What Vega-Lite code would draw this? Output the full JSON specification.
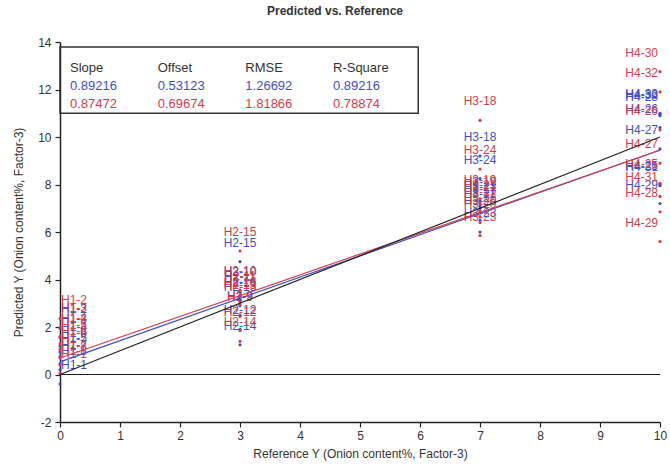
{
  "$schema": "https://vega.github.io/schema/vega-lite/v6.json",
  "width": 600,
  "height": 380,
  "autosize": {"type": "none"},
  "padding": {"left": 60, "top": 42, "right": 10, "bottom": 46},
  "background": "white",
  "config": {"view": {"stroke": null}, "font": "Liberation Sans"},
  "title": {"text": "Predicted vs. Reference", "fontSize": 12, "fontWeight": "bold", "color": "#333333", "offset": 18, "frame": "group", "dx": -25},
  "datasets": {
    "pred": [
      {"sample": "H1-1", "ref": 0, "pred": -0.4, "series": "Calibration"},
      {"sample": "H1-2", "ref": 0, "pred": 1.95, "series": "Calibration"},
      {"sample": "H1-3", "ref": 0, "pred": 1.55, "series": "Calibration"},
      {"sample": "H1-4", "ref": 0, "pred": 1.2, "series": "Calibration"},
      {"sample": "H1-5", "ref": 0, "pred": 0.75, "series": "Calibration"},
      {"sample": "H1-6", "ref": 0, "pred": 0.95, "series": "Calibration"},
      {"sample": "H1-7", "ref": 0, "pred": 0.45, "series": "Calibration"},
      {"sample": "H1-8", "ref": 0, "pred": 0.2, "series": "Calibration"},
      {"sample": "H2-9", "ref": 3, "pred": 2.5, "series": "Calibration"},
      {"sample": "H2-10", "ref": 3, "pred": 3.5, "series": "Calibration"},
      {"sample": "H2-11", "ref": 3, "pred": 3.3, "series": "Calibration"},
      {"sample": "H2-12", "ref": 3, "pred": 1.9, "series": "Calibration"},
      {"sample": "H2-13", "ref": 3, "pred": 2.9, "series": "Calibration"},
      {"sample": "H2-14", "ref": 3, "pred": 1.25, "series": "Calibration"},
      {"sample": "H2-15", "ref": 3, "pred": 4.75, "series": "Calibration"},
      {"sample": "H2-16", "ref": 3, "pred": 3.1, "series": "Calibration"},
      {"sample": "H3-17", "ref": 7, "pred": 7.0, "series": "Calibration"},
      {"sample": "H3-18", "ref": 7, "pred": 9.2, "series": "Calibration"},
      {"sample": "H3-19", "ref": 7, "pred": 7.3, "series": "Calibration"},
      {"sample": "H3-20", "ref": 7, "pred": 6.5, "series": "Calibration"},
      {"sample": "H3-21", "ref": 7, "pred": 7.1, "series": "Calibration"},
      {"sample": "H3-22", "ref": 7, "pred": 6.8, "series": "Calibration"},
      {"sample": "H3-23", "ref": 7, "pred": 6.0, "series": "Calibration"},
      {"sample": "H3-24", "ref": 7, "pred": 8.25, "series": "Calibration"},
      {"sample": "H4-25", "ref": 10, "pred": 8.0, "series": "Calibration"},
      {"sample": "H4-26", "ref": 10, "pred": 10.4, "series": "Calibration"},
      {"sample": "H4-27", "ref": 10, "pred": 9.5, "series": "Calibration"},
      {"sample": "H4-28", "ref": 10, "pred": 10.9, "series": "Calibration"},
      {"sample": "H4-29", "ref": 10, "pred": 7.2, "series": "Calibration"},
      {"sample": "H4-30", "ref": 10, "pred": 10.95, "series": "Calibration"},
      {"sample": "H4-31", "ref": 10, "pred": 7.95, "series": "Calibration"},
      {"sample": "H4-32", "ref": 10, "pred": 11.0, "series": "Calibration"},
      {"sample": "H1-1", "ref": 0, "pred": 0.05, "series": "Validation"},
      {"sample": "H1-2", "ref": 0, "pred": 2.35, "series": "Validation"},
      {"sample": "H1-3", "ref": 0, "pred": 2.0, "series": "Validation"},
      {"sample": "H1-4", "ref": 0, "pred": 1.6, "series": "Validation"},
      {"sample": "H1-5", "ref": 0, "pred": 1.3, "series": "Validation"},
      {"sample": "H1-6", "ref": 0, "pred": 1.05, "series": "Validation"},
      {"sample": "H1-7", "ref": 0, "pred": 0.7, "series": "Validation"},
      {"sample": "H1-8", "ref": 0, "pred": 0.4, "series": "Validation"},
      {"sample": "H2-9", "ref": 3, "pred": 2.45, "series": "Validation"},
      {"sample": "H2-10", "ref": 3, "pred": 3.55, "series": "Validation"},
      {"sample": "H2-11", "ref": 3, "pred": 3.35, "series": "Validation"},
      {"sample": "H2-12", "ref": 3, "pred": 1.85, "series": "Validation"},
      {"sample": "H2-13", "ref": 3, "pred": 2.95, "series": "Validation"},
      {"sample": "H2-14", "ref": 3, "pred": 1.4, "series": "Validation"},
      {"sample": "H2-15", "ref": 3, "pred": 5.2, "series": "Validation"},
      {"sample": "H2-16", "ref": 3, "pred": 3.05, "series": "Validation"},
      {"sample": "H3-17", "ref": 7, "pred": 6.9, "series": "Validation"},
      {"sample": "H3-18", "ref": 7, "pred": 10.7, "series": "Validation"},
      {"sample": "H3-19", "ref": 7, "pred": 7.4, "series": "Validation"},
      {"sample": "H3-20", "ref": 7, "pred": 6.4, "series": "Validation"},
      {"sample": "H3-21", "ref": 7, "pred": 7.2, "series": "Validation"},
      {"sample": "H3-22", "ref": 7, "pred": 6.65, "series": "Validation"},
      {"sample": "H3-23", "ref": 7, "pred": 5.85, "series": "Validation"},
      {"sample": "H3-24", "ref": 7, "pred": 8.65, "series": "Validation"},
      {"sample": "H4-25", "ref": 10, "pred": 8.05, "series": "Validation"},
      {"sample": "H4-26", "ref": 10, "pred": 10.3, "series": "Validation"},
      {"sample": "H4-27", "ref": 10, "pred": 8.9, "series": "Validation"},
      {"sample": "H4-28", "ref": 10, "pred": 6.85, "series": "Validation"},
      {"sample": "H4-29", "ref": 10, "pred": 5.6, "series": "Validation"},
      {"sample": "H4-30", "ref": 10, "pred": 12.75, "series": "Validation"},
      {"sample": "H4-31", "ref": 10, "pred": 7.5, "series": "Validation"},
      {"sample": "H4-32", "ref": 10, "pred": 11.9, "series": "Validation"}
    ],
    "stats": [
      {"row": "header", "column": "Slope", "text": "Slope"},
      {"row": "header", "column": "Offset", "text": "Offset"},
      {"row": "header", "column": "RMSE", "text": "RMSE"},
      {"row": "header", "column": "R-Square", "text": "R-Square"},
      {"row": "Calibration", "column": "Slope", "text": "0.89216"},
      {"row": "Calibration", "column": "Offset", "text": "0.53123"},
      {"row": "Calibration", "column": "RMSE", "text": "1.26692"},
      {"row": "Calibration", "column": "R-Square", "text": "0.89216"},
      {"row": "Validation", "column": "Slope", "text": "0.87472"},
      {"row": "Validation", "column": "Offset", "text": "0.69674"},
      {"row": "Validation", "column": "RMSE", "text": "1.81866"},
      {"row": "Validation", "column": "R-Square", "text": "0.78874"}
    ]
  },
  "layer": [
    {
      "data": {"name": "pred"},
      "mark": {"type": "point", "opacity": 0},
      "encoding": {
        "x": {"field": "ref", "type": "quantitative", "scale": {"domain": [0, 10], "nice": false, "zero": false},
          "axis": {"title": "Reference Y (Onion content%, Factor-3)", "values": [0,0.5,1,1.5,2,2.5,3,3.5,4,4.5,5,5.5,6,6.5,7,7.5,8,8.5,9,9.5,10],
            "labelExpr": "datum.value % 1 === 0 ? '' + datum.value : ''", "grid": false,
            "domainColor": "#222222", "domainWidth": 1.5, "tickColor": "#222222", "tickWidth": 1.2,
            "tickSize": {"condition": {"test": "datum.value % 1 === 0", "value": 5}, "value": 4},
            "labelFontSize": 12, "labelColor": "#333333", "labelPadding": 3, "labelFlush": false,
            "titleFontSize": 12, "titleFontWeight": "normal", "titleColor": "#333333", "titlePadding": 7}},
        "y": {"field": "pred", "type": "quantitative", "scale": {"domain": [-2, 14], "nice": false, "zero": false},
          "axis": {"title": "Predicted Y (Onion content%, Factor-3)", "values": [-2,-1,0,1,2,3,4,5,6,7,8,9,10,11,12,13,14],
            "labelExpr": "datum.value % 2 === 0 ? '' + datum.value : ''", "grid": false,
            "domainColor": "#222222", "domainWidth": 1.5, "tickColor": "#222222", "tickWidth": 1.2, "tickSize": 5,
            "labelFontSize": 12, "labelColor": "#333333", "labelPadding": 4, "labelFlush": false,
            "titleFontSize": 12, "titleFontWeight": "normal", "titleColor": "#333333", "titlePadding": 12}},
        "color": {"field": "series", "type": "nominal", "scale": {"domain": ["Calibration", "Validation", "header"], "range": ["#3f4fc6", "#d83c4a", "#333333"]}, "legend": null}
      }
    },
    {
      "data": {"values": [{}]},
      "mark": {"type": "rule", "color": "#222222", "strokeWidth": 1.2},
      "encoding": {"x": {"datum": 0, "type": "quantitative"}, "x2": {"datum": 10}, "y": {"datum": 0, "type": "quantitative"}}
    },
    {
      "data": {"name": "pred"},
      "transform": [{"filter": "datum.ref === 0"}],
      "mark": {"type": "text", "align": "left", "baseline": "middle", "dx": 1, "dy": -19, "fontSize": 12},
      "encoding": {
        "x": {"field": "ref", "type": "quantitative"},
        "y": {"field": "pred", "type": "quantitative"},
        "text": {"field": "sample"},
        "color": {"field": "series", "type": "nominal", "legend": null}
      }
    },
    {
      "data": {"name": "pred"},
      "transform": [{"filter": "datum.ref === 10"}],
      "mark": {"type": "text", "align": "right", "baseline": "middle", "dx": -2, "dy": -19, "fontSize": 12},
      "encoding": {
        "x": {"field": "ref", "type": "quantitative"},
        "y": {"field": "pred", "type": "quantitative"},
        "text": {"field": "sample"},
        "color": {"field": "series", "type": "nominal", "legend": null}
      }
    },
    {
      "data": {"name": "pred"},
      "transform": [{"filter": "datum.ref > 0 && datum.ref < 10"}],
      "mark": {"type": "text", "align": "center", "baseline": "middle", "dy": -19, "fontSize": 12},
      "encoding": {
        "x": {"field": "ref", "type": "quantitative"},
        "y": {"field": "pred", "type": "quantitative"},
        "text": {"field": "sample"},
        "color": {"field": "series", "type": "nominal", "legend": null}
      }
    },
    {
      "data": {"name": "pred"},
      "mark": {"type": "circle", "size": 10, "opacity": 1},
      "encoding": {
        "x": {"field": "ref", "type": "quantitative"},
        "y": {"field": "pred", "type": "quantitative"},
        "color": {"field": "series", "type": "nominal", "legend": null}
      }
    },
    {
      "data": {"values": [{}]},
      "mark": {"type": "rule", "color": "#3f4fc6", "strokeWidth": 1.2},
      "encoding": {"x": {"datum": 0, "type": "quantitative"}, "x2": {"datum": 10}, "y": {"datum": 0.53123, "type": "quantitative"}, "y2": {"datum": 9.45283}}
    },
    {
      "data": {"values": [{}]},
      "mark": {"type": "rule", "color": "#d83c4a", "strokeWidth": 1.2},
      "encoding": {"x": {"datum": 0, "type": "quantitative"}, "x2": {"datum": 10}, "y": {"datum": 0.69674, "type": "quantitative"}, "y2": {"datum": 9.44394}}
    },
    {
      "data": {"values": [{}]},
      "mark": {"type": "rule", "color": "#222222", "strokeWidth": 1.2},
      "encoding": {"x": {"datum": 0, "type": "quantitative"}, "x2": {"datum": 10}, "y": {"datum": 0, "type": "quantitative"}, "y2": {"datum": 10}}
    },
    {
      "data": {"values": [{}]},
      "mark": {"type": "rect", "fill": "white", "fillOpacity": 0, "stroke": "#333333", "strokeWidth": 1.5},
      "encoding": {"x": {"datum": 0, "type": "quantitative"}, "x2": {"datum": 5.97}, "y": {"datum": 13.79, "type": "quantitative"}, "y2": {"datum": 11.0}}
    },
    {
      "data": {"name": "stats"},
      "mark": {"type": "text", "align": "left", "baseline": "middle", "fontSize": 13},
      "encoding": {
        "x": {"datum": 0, "type": "quantitative"},
        "y": {"datum": 14, "type": "quantitative"},
        "xOffset": {"field": "column", "type": "nominal", "scale": {"type": "point", "domain": ["Slope", "Offset", "RMSE", "R-Square"], "range": [10, 273], "padding": 0}},
        "yOffset": {"field": "row", "type": "nominal", "scale": {"type": "point", "domain": ["header", "Calibration", "Validation"], "range": [26, 62], "padding": 0}},
        "text": {"field": "text"},
        "color": {"field": "row", "type": "nominal", "legend": null}
      }
    }
  ]
}
